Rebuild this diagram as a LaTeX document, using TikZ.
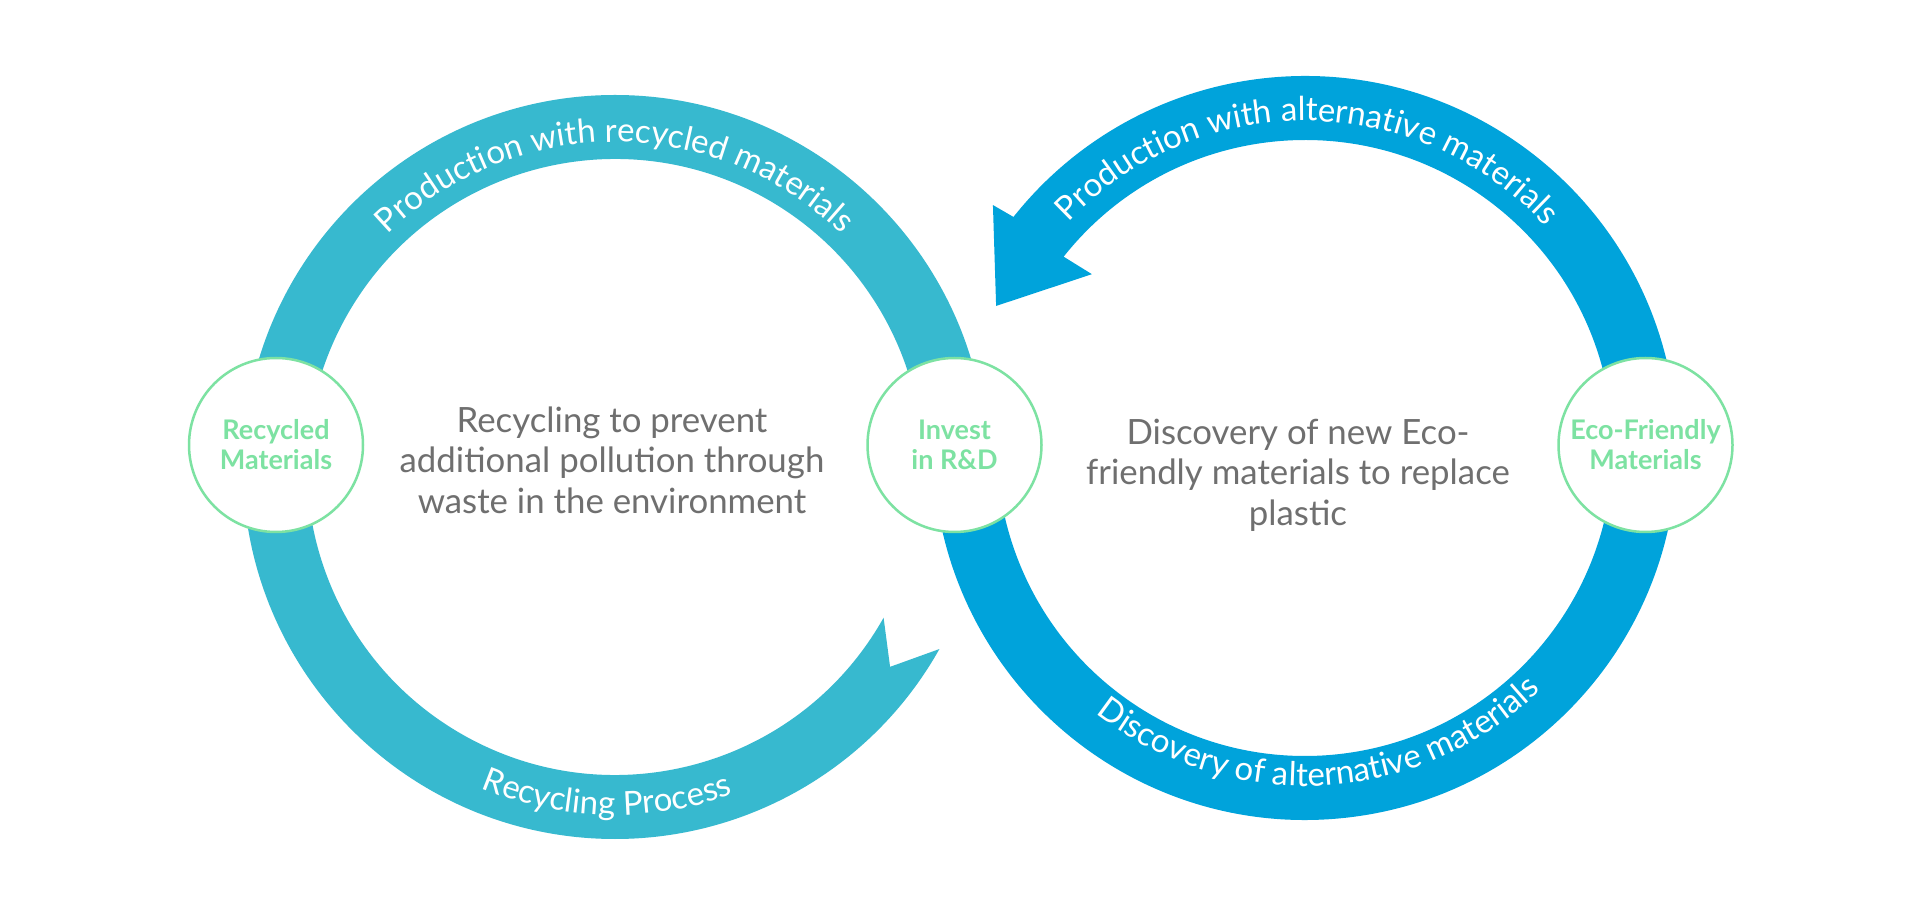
\documentclass[tikz,border=0pt]{standalone}
\usepackage{fontspec}
\setmainfont{Lato}
\usetikzlibrary{calc,decorations.text}

\definecolor{recycteal}{HTML}{37B9CF}
\definecolor{altblue}{HTML}{00A3DB}
\definecolor{stagegreen}{HTML}{7DE2A2}
\definecolor{notegrey}{HTML}{6F6F6F}

\newcommand\ringfont{\fontsize{33}{33}\selectfont}

\begin{document}
\begin{tikzpicture}[
  x=1pt, y=1pt,
  stage/.style={circle, draw=stagegreen, line width=2.5pt, fill=white,
    minimum size=174pt, inner sep=0pt, align=center, text=stagegreen,
    font={\bfseries\fontsize{27}{30}\selectfont}},
  note/.style={align=center, text=notegrey,
    font={\fontsize{34.8}{40.5}\selectfont}},
  ringlabel/.style={decorate, decoration={text along path, text align=center,
    text color=white, text={|\ringfont|#1}}},
]

\useasboundingbox (0,0) rectangle (1920,900);
\fill[white] (0,0) rectangle (1920,900);

% ── centres of the two loops ─────────────────────────────────────────────
\coordinate (L) at (615,433);
\coordinate (R) at (1305,452);

% ── left loop: recycling, notched end at the lower right ────────────────
\fill[recycteal] ($(L)+(0:372)$) arc[start angle=0, end angle=330.7, radius=372]
  -- ($(L)+(324:340)$) -- ($(L)+(330.7:308)$)
  arc[start angle=330.7, end angle=0, radius=308] -- cycle;

% ── right loop: alternative materials, arrow head into R&D ─────────────
\fill[altblue] ($(R)+(185:372)$) arc[start angle=185, end angle=501.6, radius=372]
  -- ($(R)+(502.1:395.5)$) -- ($(R)+(515.3:340)$) -- ($(R)+(500.8:275)$)
  -- ($(R)+(501.6:308)$)
  arc[start angle=501.6, end angle=185, radius=308] -- cycle;

% labels riding on the bands
\path[ringlabel=Production with recycled materials]
  ($(L)+(170:325)$) arc[start angle=170, end angle=10, radius=325];
\path[ringlabel=Recycling Process]
  ($(L)+(188.6:348)$) arc[start angle=188.6, end angle=348.6, radius=348];
\path[ringlabel=Production with alternative materials]
  ($(R)+(169.5:327)$) arc[start angle=169.5, end angle=9.5, radius=327];
\path[ringlabel=Discovery of alternative materials]
  ($(R)+(193:338)$) arc[start angle=193, end angle=353, radius=338];

% ── the three stages ────────────────────────────────────────────────────
\node[stage] (recycled) at (276,455) {Recycled\\Materials};
\node[stage] (invest)   at (954.5,455) {Invest\\in R\&D};
\node[stage] (eco)      at (1645.5,455) {Eco-Friendly\\Materials};

\node[note] (leftnote)  at (612,440) {Recycling to prevent\\additional pollution through\\waste in the environment};
\node[note] (rightnote) at (1298,425) {Discovery of new Eco-\\friendly materials to replace\\plastic};

\end{tikzpicture}
\end{document}
